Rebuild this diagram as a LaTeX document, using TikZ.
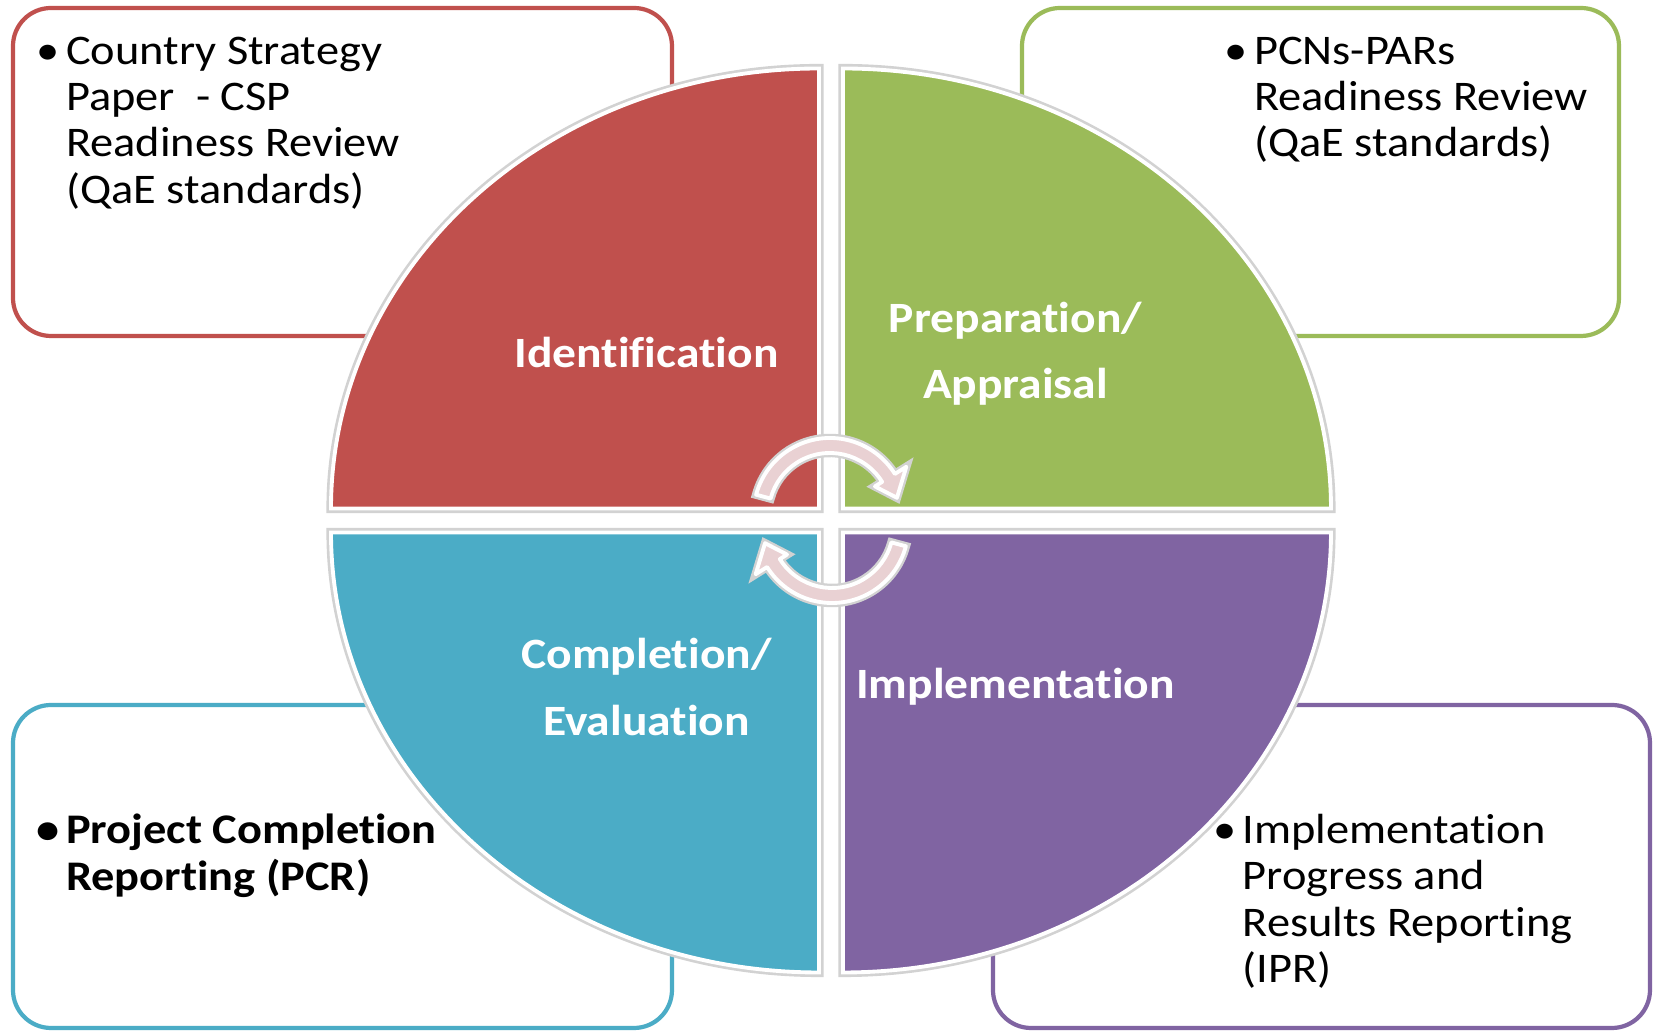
\documentclass[tikz,border=0pt]{standalone}
\usepackage{fontspec}
\setmainfont{Carlito}[FakeStretch=1.1, Ligatures=NoCommon]
\usetikzlibrary{calc}
\definecolor{cyred}{HTML}{C0504D}
\definecolor{cygreen}{HTML}{9BBB59}
\definecolor{cyblue}{HTML}{4BACC6}
\definecolor{cypurple}{HTML}{8064A2}
\definecolor{cypink}{HTML}{E9D1D3}
\definecolor{cyshadow}{HTML}{D2D2D2}
\newcommand{\boxfont}{\fontsize{12}{13.2}\selectfont}
\newcommand{\quadfont}{\fontsize{12.3}{18.9}\selectfont\bfseries}
\newcommand{\bul}{\llap{\makebox[0.36cm]{\textbullet}}}
\tikzset{
  panel/.style      = {fill=white, line width=1.2pt, rounded corners=0.38cm,
                       inner sep=0pt},
  quad/.style       = {draw=white, line width=1.1pt,
                       preaction={draw=cyshadow, line width=2.6pt}},
  quadlbl/.style    = {text=white, font=\quadfont, align=center, inner sep=0pt},
  boxtxt/.style     = {font=\boxfont, align=left, inner sep=0pt,
                       anchor=north west, text=black},
  cyclearrow/.style = {fill=cypink, draw=white, line width=1.1pt,
                       line join=round,
                       preaction={draw=cyshadow, line width=2.4pt}},
}

\begin{document}
\begin{tikzpicture}

  \useasboundingbox[fill=white] (-8.31,-5.105) rectangle (8.25,5.205);

  % ---------- side panels ------------------------------------------------
  \node[panel, draw=cyred,    minimum width=6.59cm, minimum height=3.28cm]
    (idbox)   at (-4.885, 3.485) {};
  \node[panel, draw=cygreen,  minimum width=5.97cm, minimum height=3.28cm]
    (prepbox) at ( 4.895, 3.485) {};
  \node[panel, draw=cyblue,   minimum width=6.59cm, minimum height=3.23cm]
    (compbox) at (-4.885,-3.460) {};
  \node[panel, draw=cypurple, minimum width=6.57cm, minimum height=3.23cm]
    (implbox) at ( 4.905,-3.460) {};

  \node[boxtxt] (idtxt) at (-7.655, 4.845)
    {\bul Country Strategy\\ Paper~~- CSP\\ Readiness Review\\ (QaE standards)};
  \node[boxtxt] (preptxt) at (4.225, 4.845)
    {\bul PCNs-PARs\\ Readiness Review\\ (QaE standards)};
  \node[boxtxt, font=\boxfont\bfseries] (comptxt) at (-7.655,-2.93)
    {\bul Project Completion\\ Reporting (PCR)};
  \node[boxtxt] (impltxt) at (4.11,-2.93)
    {\bul Implementation\\ Progress and\\ Results Reporting\\ (IPR)};

  % ---------- the four quarters ------------------------------------------
  \path[quad, fill=cyred]    (-0.12, 0.12) -- ++(-4.88,0)
    arc[start angle=180, end angle=90,  x radius=4.88, y radius=4.40] -- cycle;
  \path[quad, fill=cygreen]  ( 0.12, 0.12) -- ++( 4.88,0)
    arc[start angle=0,   end angle=90,  x radius=4.88, y radius=4.40] -- cycle;
  \path[quad, fill=cyblue]   (-0.12,-0.12) -- ++(-4.88,0)
    arc[start angle=180, end angle=270, x radius=4.88, y radius=4.40] -- cycle;
  \path[quad, fill=cypurple] ( 0.12,-0.12) -- ++( 4.88,0)
    arc[start angle=0,   end angle=-90, x radius=4.88, y radius=4.40] -- cycle;

  \node[quadlbl] (ident) at (-1.845, 1.68) {Identification};
  \node[quadlbl] (prep)  at ( 1.845, 1.665) {Preparation/\\ Appraisal};
  \node[quadlbl] (compl) at (-1.845,-1.665) {Completion/\\ Evaluation};
  \node[quadlbl] (impl)  at ( 1.845,-1.665) {Implementation};

  % ---------- turning arrows in the middle --------------------------------
  \coordinate (c1) at (-0.01, 0.06);
  \coordinate (c2) at ( 0.01,-0.06);
  \path[cyclearrow] ($(c1)+(165:0.765)$)
      arc[start angle=165, end angle=32, radius=0.765]
      -- ($(c1)+(32:0.90)$) -- ($(c1)+(14:0.69)$) -- ($(c1)+(32:0.53)$)
      -- ($(c1)+(32:0.615)$)
      arc[start angle=32, end angle=165, radius=0.615] -- cycle;
  \path[cyclearrow] ($(c2)+(345:0.765)$)
      arc[start angle=345, end angle=212, radius=0.765]
      -- ($(c2)+(212:0.90)$) -- ($(c2)+(194:0.69)$) -- ($(c2)+(212:0.53)$)
      -- ($(c2)+(212:0.615)$)
      arc[start angle=212, end angle=345, radius=0.615] -- cycle;

\end{tikzpicture}
\end{document}
